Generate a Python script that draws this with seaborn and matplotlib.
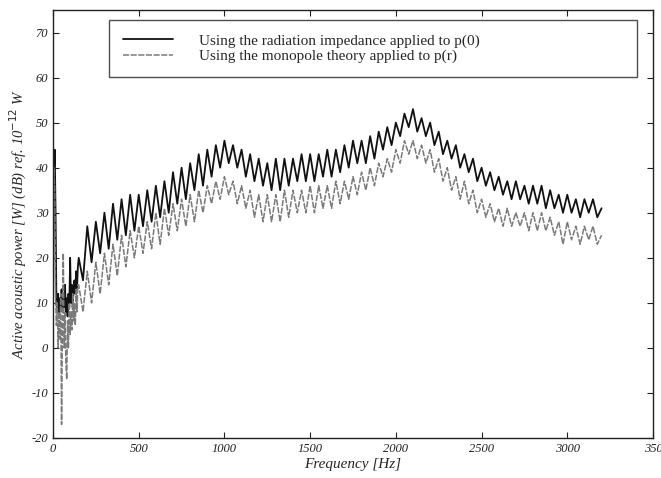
import numpy as np
import pandas as pd
import matplotlib
matplotlib.use("Agg")
import matplotlib.pyplot as plt
import seaborn as sns

# ---- data ----
freq_low = [0, 5, 10, 15, 20, 25, 30, 35, 40, 45, 50, 55, 60, 65, 70, 75, 80, 85, 90, 95,
            100, 105, 110, 115, 120, 125, 130, 135, 140, 145]
freq_high = list(range(150, 3201, 25))

radiation_low = [8, 38, 44, 30, 10, 8, 12, 7, 11, 9, 13, 8, 12, 9, 14, 8, 11, 7, 12, 9,
                 20, 10, 14, 9, 13, 15, 12, 17, 13, 18]
radiation_high = [20, 15, 27, 19, 28, 21, 30, 22, 32, 24,
                  33, 25, 34, 26, 34, 27, 35, 28, 36, 29,
                  37, 30, 39, 32, 40, 33, 41, 35, 43, 36,
                  44, 38, 45, 40, 46, 41, 45, 40, 44, 38,
                  43, 37, 42, 36, 41, 35, 42, 35, 42, 36,
                  42, 37, 43, 37, 43, 37, 43, 38, 44, 38,
                  44, 39, 45, 40, 46, 41, 46, 41, 47, 42,
                  48, 44, 49, 45, 50, 47, 52, 49, 53, 48,
                  51, 47, 50, 45, 48, 43, 46, 42, 45, 40,
                  43, 39, 42, 37, 40, 36, 39, 35, 38, 34,
                  37, 33, 37, 33, 36, 32, 36, 32, 36, 31,
                  35, 31, 34, 30, 34, 30, 33, 29, 33, 30,
                  33, 29, 31]

monopole_low = [10, 40, 35, 12, 5, 10, 0, 8, 2, 12, -17, 5, 21, 0, 8, -3, -7, 6, 0, 10,
                3, 8, 4, 12, 6, 10, 5, 13, 8, 14]
monopole_high = [14, 8, 17, 10, 19, 12, 21, 14, 23, 16,
                 25, 18, 26, 20, 27, 21, 28, 22, 30, 23,
                 31, 25, 32, 26, 33, 27, 34, 28, 35, 30,
                 36, 32, 37, 33, 38, 34, 37, 32, 36, 31,
                 35, 29, 34, 28, 34, 28, 34, 28, 35, 29,
                 35, 30, 35, 30, 36, 30, 36, 31, 36, 31,
                 37, 32, 37, 33, 38, 34, 39, 35, 40, 36,
                 41, 38, 42, 39, 44, 41, 46, 43, 46, 42,
                 45, 41, 44, 39, 42, 37, 40, 35, 38, 33,
                 37, 32, 35, 30, 33, 29, 32, 28, 31, 27,
                 31, 27, 30, 27, 30, 26, 30, 26, 30, 26,
                 29, 25, 28, 23, 28, 24, 27, 23, 27, 24,
                 27, 23, 25]

labels = ["Using the radiation impedance applied to p(0)",
          "Using the monopole theory applied to p(r)"]
x_ticks = [0, 500, 1000, 1500, 2000, 2500, 3000, 3500]
x_ticklabels = ["0", "500", "1000", "1500", "2000", "2500", "3000", "350"]
y_ticks = [-20, -10, 0, 10, 20, 30, 40, 50, 60, 70]

freq = freq_low + freq_high
df = pd.DataFrame({
    "Frequency": freq * 2,
    "Power": radiation_low + radiation_high + monopole_low + monopole_high,
    "Method": [labels[0]] * len(freq) + [labels[1]] * len(freq),
})

sns.set_style("ticks")
plt.rcParams["font.family"] = ["Liberation Serif", "DejaVu Serif"]
plt.rcParams["axes.unicode_minus"] = False

fig = plt.figure(figsize=(6.61, 4.78), dpi=100)
ax = fig.add_axes([53 / 661, 40 / 478, 600 / 661, 428 / 478])

sns.lineplot(data=df[df["Method"] == labels[0]], x="Frequency", y="Power",
             color="#111111", linewidth=1.3, ax=ax, label=labels[0], estimator=None)
sns.lineplot(data=df[df["Method"] == labels[1]], x="Frequency", y="Power",
             color="#7a7a7a", linewidth=1.1, ax=ax, label=labels[1], estimator=None,
             linestyle=(0, (4, 1)))

ax.set_xlim(0, 3500)
ax.set_ylim(-20, 75)
ax.set_xticks(x_ticks)
ax.set_xticklabels(x_ticklabels)
ax.set_yticks(y_ticks)
ax.tick_params(direction="in", top=True, right=True, length=4, width=0.8,
               labelsize=9, colors="#222222")
for lab in ax.get_xticklabels() + ax.get_yticklabels():
    lab.set_fontstyle("italic")
for sp in ax.spines.values():
    sp.set_linewidth(1.0)
    sp.set_color("#222222")

ax.set_xlabel("Frequency [Hz]", fontsize=11, fontstyle="italic", labelpad=2)
ax.set_ylabel("Active acoustic power [W] (dB) ref. 10$^{-12}$ W", fontsize=10.5,
              fontstyle="italic", labelpad=2)

leg = ax.legend(loc="upper left", bbox_to_anchor=(0.0933, 0.9766, 0.88, 0.0),
                mode="expand", frameon=True, fancybox=False, borderpad=0.9,
                labelspacing=0.1, handlelength=3.3, handletextpad=1.7,
                prop={"family": "Liberation Serif", "size": 11}, borderaxespad=0)
leg.get_frame().set_edgecolor("#222222")
leg.get_frame().set_linewidth(1.0)

fig.savefig("out.png", dpi=100)
